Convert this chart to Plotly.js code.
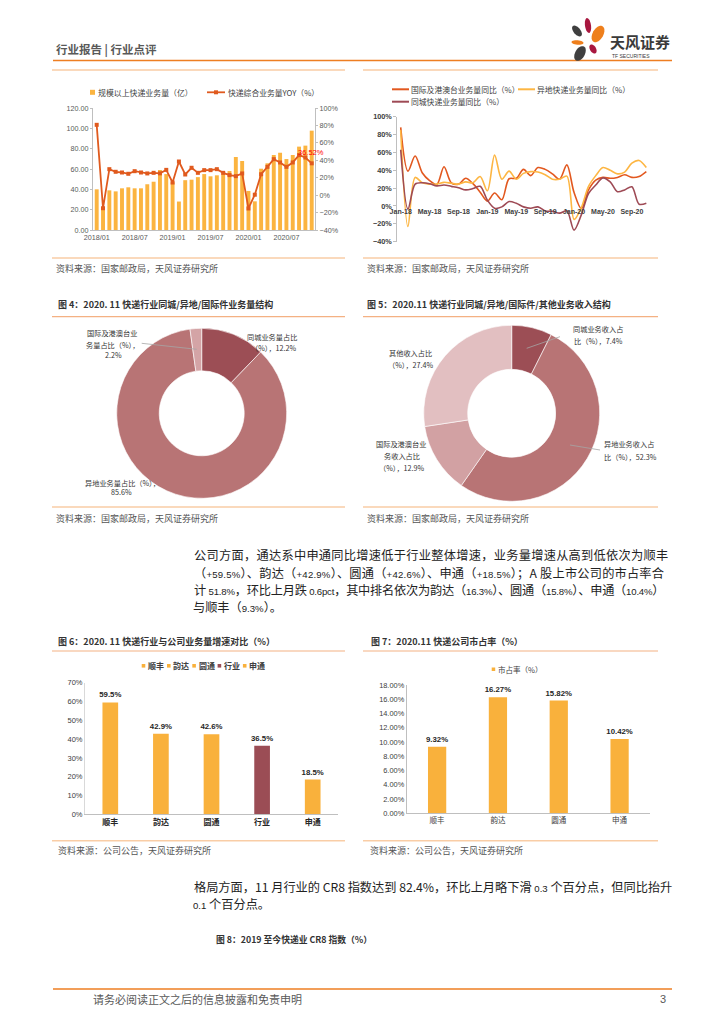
<!DOCTYPE html>
<html><head><meta charset="utf-8">
<script src="https://cdn.plot.ly/plotly-3.0.1.min.js"></script>
<style>html,body{margin:0;padding:0;background:#fff}#page{width:724px;height:1024px}</style>
</head><body><div id="page"></div>
<script>
// ---------------- DATA ----------------
const months1 = ["2018/01","2018/02","2018/03","2018/04","2018/05","2018/06","2018/07","2018/08","2018/09","2018/10","2018/11","2018/12",
  "2019/01","2019/02","2019/03","2019/04","2019/05","2019/06","2019/07","2019/08","2019/09","2019/10","2019/11","2019/12",
  "2020/01","2020/02","2020/03","2020/04","2020/05","2020/06","2020/07","2020/08","2020/09","2020/10","2020/11"];
const volume1 = [40,22,39,38,41,42,41,41,45,47.5,59,55,47,28,49,49.5,52,55,52.8,53.8,55.7,58,71.8,67.9,38.4,28.2,60.3,65.6,73.8,76,69.8,73.8,82,83,97.7];
const yoy1 = [80.7,-15,29.8,26.8,26,24.5,27.5,26,24.9,25.6,25,29,14.5,38.6,23.7,31.4,25.6,28.7,28.7,29.8,25.6,23,21.8,24.9,-15.3,0.5,24,32.5,41.3,37.5,32.5,37.5,45.9,43.2,36.52];
const ticks1 = ["2018/01","2018/07","2019/01","2019/07","2020/01","2020/07"];

const months2 = ["Jan-18","Feb-18","Mar-18","Apr-18","May-18","Jun-18","Jul-18","Aug-18","Sep-18","Oct-18","Nov-18","Dec-18",
  "Jan-19","Feb-19","Mar-19","Apr-19","May-19","Jun-19","Jul-19","Aug-19","Sep-19","Oct-19","Nov-19","Dec-19",
  "Jan-20","Feb-20","Mar-20","Apr-20","May-20","Jun-20","Jul-20","Aug-20","Sep-20","Oct-20","Nov-20"];
const intlYoy  = [88,39,56,37,28.5,24,44,26,24.5,31,25,15.5,5.5,14.5,7,30.5,31,41,34,43,41,36,30,46,15,-3,18,29,32,31,32,35,32,33,38.5];
const interYoy = [85,-23,32,26,24.5,24.5,26.5,25.5,24.5,27,26,33,17,57,30,39,30,36.5,38.5,38,35,30,30,33.5,-15,-2,22,34,43,40,36,38,48,51,43];
const intraYoy = [63,-3.5,24.5,26,25,22.5,23.5,22,20.5,18,19.5,22,6.5,-2.5,-1,5,3,-1,-2.5,-1,-5.5,-6,-8,-5.5,-27,-10,14,23.5,31.5,27,16,18,21.5,2,3];
const ticks2 = ["Jan-18","May-18","Sep-18","Jan-19","May-19","Sep-19","Jan-20","May-20","Sep-20"];

const volLabels = ["同城业务量占比（%）","异地业务量占比（%）","国际及港澳台业务量占比（%）"];
const volShare = [12.2,85.6,2.2];
const revLabels = ["同城业务收入占比（%）","异地业务收入占比（%）","国际及港澳台业务收入占比（%）","其他收入占比（%）"];
const revShare = [7.4,52.3,12.9,27.4];

const companies6 = ["顺丰","韵达","圆通","行业","申通"];
const growth6 = [59.5,42.9,42.6,36.5,18.5];
const companies7 = ["顺丰","韵达","圆通","申通"];
const share7 = [9.32,16.27,15.82,10.42];

// ---------------- HELPERS ----------------
const W = 724, H = 1024;
const X = p => p / W;
const Y = p => 1 - p / H;
const SANS = '"Liberation Sans", "Noto Sans CJK SC", sans-serif';
const CJK = '"Noto Sans CJK SC", "Liberation Sans", sans-serif';
const ORANGE = '#FBB440', LINE1 = '#E05A1E', LINEA = '#E2581F', LINEB = '#FDB643', LINEC = '#9E4A55';
const DARKRED = '#9B4D55';

function T(x, y, text, size, o) {
  o = o || {};
  return {xref:'paper', yref:'paper', x:X(x), y:Y(y), text:text, showarrow:false,
    xanchor:o.anchor || 'left', yanchor:'middle', borderpad:0,
    font:{family:o.family || CJK, size:size, color:o.color || '#333', weight:o.weight || 'normal'}};
}
function L(x0, y0, x1, y1, color, width) {
  return {type:'line', xref:'paper', yref:'paper', x0:X(x0), y0:Y(y0), x1:X(x1), y1:Y(y1),
    line:{color:color, width:width || 1}};
}
function R(x0, y0, x1, y1, color) {
  return {type:'rect', xref:'paper', yref:'paper', x0:X(x0), y0:Y(y0), x1:X(x1), y1:Y(y1),
    fillcolor:color, line:{width:0}};
}
function petal(cx, cy, rx, ry, ang, color) {
  const a = ang * Math.PI / 180; let d = '';
  for (let k = 0; k < 28; k++) {
    const t = k / 28 * 2 * Math.PI;
    const ex = rx * Math.cos(t), ey = ry * Math.sin(t);
    const px = cx + ex * Math.cos(a) - ey * Math.sin(a);
    const py = cy + ex * Math.sin(a) + ey * Math.cos(a);
    d += (k ? 'L' : 'M') + X(px).toFixed(5) + ',' + Y(py).toFixed(5);
  }
  return {type:'path', xref:'paper', yref:'paper', path:d + 'Z', fillcolor:color, line:{width:0}};
}
const tf = (s, c, w) => ({family:SANS, size:s, color:c || '#595959', weight:w || 'normal'});
// paragraph segments: cj = CJK run, la = smaller latin run, both with letter spacing
const cj = (s, ls) => '<span style="letter-spacing:' + ls + 'px">' + s + '</span>';
const la = (s, ls) => '<span style="font-size:9.6px;font-family:\'Liberation Sans\';letter-spacing:' + ls + 'px">' + s + '</span>';

// ---------------- TRACES ----------------
const traces = [];
// Chart 1
traces.push({type:'bar', name:'规模以上快递业务量（亿）', x:months1, y:volume1, xaxis:'x', yaxis:'y',
  width:0.62, marker:{color:ORANGE}, hoverinfo:'x+y'});
traces.push({type:'scatter', name:'快递综合业务量YOY（%）', x:months1, y:yoy1, xaxis:'x', yaxis:'y2',
  mode:'lines+markers', line:{color:LINE1, width:1.8}, marker:{symbol:'square', size:4, color:LINE1}, cliponaxis:false});
// Chart 2
[[intlYoy, '国际及港澳台业务量同比（%）', LINEA], [interYoy, '异地快递业务量同比（%）', LINEB], [intraYoy, '同城快递业务量同比（%）', LINEC]]
  .forEach(s => traces.push({type:'scatter', mode:'lines', name:s[1], x:months2, y:s[0], xaxis:'x3', yaxis:'y3',
    line:{color:s[2], width:1.6, shape:'spline', smoothing:0.9}, cliponaxis:false}));
// Donuts
traces.push({type:'pie', labels:volLabels, values:volShare, hole:0.5, sort:false, direction:'clockwise', rotation:0,
  domain:{x:[X(116.7), X(286.7)], y:[Y(498.3), Y(328.3)]},
  marker:{colors:['#9C4E55','#B87475','#D4A4A6'], line:{color:'#ffffff', width:0.6}}, textinfo:'none'});
traces.push({type:'pie', labels:revLabels, values:revShare, hole:0.5, sort:false, direction:'clockwise', rotation:0,
  domain:{x:[X(423.7), X(599.7)], y:[Y(501.3), Y(325.3)]},
  marker:{colors:['#9C4E55','#B87475','#D2A1A3','#E2BFC1'], line:{color:'#ffffff', width:0.6}}, textinfo:'none'});
// Chart 6
const colors6 = companies6.map(c => c === '行业' ? DARKRED : '#F9B13C');
companies6.forEach((c, i) => traces.push({type:'bar', name:c, x:[c], y:[growth6[i]], xaxis:'x4', yaxis:'y4',
  width:0.31, marker:{color:colors6[i]}, text:[growth6[i].toFixed(1) + '%'], textposition:'outside',
  constraintext:'none', textfont:{family:SANS, size:7.8, color:'#262626', weight:'bold'}, cliponaxis:false}));
// Chart 7
traces.push({type:'bar', name:'市占率（%）', x:companies7, y:share7, xaxis:'x5', yaxis:'y5', width:0.3,
  marker:{color:'#F9B13C'}, text:share7.map(v => v.toFixed(2) + '%'), textposition:'outside',
  constraintext:'none', textfont:{family:SANS, size:7.8, color:'#262626', weight:'bold'}, cliponaxis:false});

// ---------------- AXES ----------------
const ax = {showgrid:false, zeroline:false, fixedrange:true};
const layout = {
  width:W, height:H, margin:{l:0, r:0, t:0, b:0}, paper_bgcolor:'#ffffff', plot_bgcolor:'rgba(0,0,0,0)',
  showlegend:false, barmode:'overlay', font:{family:SANS, color:'#333'},
  xaxis:Object.assign({}, ax, {domain:[X(93), X(315)], anchor:'y', type:'category', categoryorder:'array', categoryarray:months1,
    range:[-0.585, 34.52], tickmode:'array', tickvals:ticks1, ticks:'', showline:true, linecolor:'#bfbfbf', linewidth:1,
    tickfont:tf(7.2)}),
  yaxis:Object.assign({}, ax, {domain:[Y(230), Y(108)], anchor:'x', range:[0, 120], dtick:20, tick0:0, tickformat:'.2f',
    showline:true, linecolor:'#bfbfbf', ticks:'outside', ticklen:2, tickcolor:'#bfbfbf', tickfont:tf(7.2)}),
  yaxis2:Object.assign({}, ax, {overlaying:'y', side:'right', anchor:'x', range:[-40, 100], dtick:20, tick0:0, ticksuffix:'%',
    showline:true, linecolor:'#bfbfbf', ticks:'outside', ticklen:2, tickcolor:'#bfbfbf', tickfont:tf(7.2)}),
  xaxis3:Object.assign({}, ax, {domain:[X(397.3), X(650)], anchor:'free', position:Y(206), type:'category',
    categoryorder:'array', categoryarray:months2, range:[-0.47, 34.51], tickmode:'array', tickvals:ticks2,
    ticks:'', showline:false, tickfont:tf(7, '#404040', 'bold')}),
  yaxis3:Object.assign({}, ax, {domain:[Y(241.7), Y(116.7)], anchor:'x3', range:[-40, 100], dtick:20, tick0:0, ticksuffix:'%',
    showline:true, linecolor:'#bfbfbf', ticks:'outside', ticklen:3, tickcolor:'#bfbfbf', tickfont:tf(7.3, '#404040', 'bold')}),
  xaxis4:Object.assign({}, ax, {domain:[X(85), X(338)], anchor:'y4', type:'category', categoryorder:'array', categoryarray:companies6,
    range:[-0.5, 4.5], ticks:'', showline:true, linecolor:'#bfbfbf', tickfont:{family:CJK, size:8, color:'#262626', weight:'bold'}}),
  yaxis4:Object.assign({}, ax, {domain:[Y(814.3), Y(682.7)], anchor:'x4', range:[0, 70], dtick:10, tick0:0, ticksuffix:'%',
    showline:true, linecolor:'#d9d9d9', ticks:'', tickfont:tf(7.5, '#404040')}),
  xaxis5:Object.assign({}, ax, {domain:[X(406.7), X(650)], anchor:'y5', type:'category', categoryorder:'array', categoryarray:companies7,
    range:[-0.5, 3.5], ticks:'', showline:true, linecolor:'#bfbfbf', tickfont:{family:CJK, size:7.5, color:'#404040'}}),
  yaxis5:Object.assign({}, ax, {domain:[Y(813.3), Y(685)], anchor:'x5', range:[0, 18], dtick:2, tick0:0, tickformat:'.2f', ticksuffix:'%',
    showline:true, linecolor:'#bfbfbf', ticks:'', tickfont:tf(7.4, '#404040')})
};

// ---------------- DECORATION: lines, legends, texts ----------------
const LIGHT = '#F9CDA6', MID = '#F4B183', HEAD = '#EE7E22';
const shapes = [
  L(53, 60.5, 672, 60.5, HEAD, 1.6),
  L(52, 70, 345, 70, LIGHT, 1.5), L(363, 70, 658, 70, LIGHT, 1.5),
  L(52, 258, 345, 258, LIGHT, 1.5), L(363, 258, 658, 258, LIGHT, 1.5),
  L(52, 316.7, 345, 316.7, MID, 1.2), L(363, 316.7, 658, 316.7, MID, 1.2),
  L(52, 507, 345, 507, LIGHT, 1.5), L(363, 507, 658, 507, LIGHT, 1.5),
  L(52, 651, 345, 651, MID, 1.2), L(363, 651, 658, 651, MID, 1.2),
  L(52, 840.7, 345, 840.7, LIGHT, 1.5), L(363, 840.7, 658, 840.7, LIGHT, 1.5),
  L(53, 989, 672, 989, HEAD, 1.6),
  // legend keys chart 1
  R(90, 89.8, 95, 94.8, ORANGE),
  L(207, 92.3, 225, 92.3, LINE1, 1.8), R(214, 90.3, 218, 94.3, LINE1),
  // legend keys chart 2
  L(392, 89.3, 409, 89.3, LINEA, 2), L(518, 89.3, 535, 89.3, LINEB, 2), L(392, 101.7, 409, 101.7, LINEC, 2),
  // donut leader lines
  L(141.7, 343.3, 196.7, 349.3, '#A6A6A6', 0.8),
  L(526.7, 348.3, 560, 336.7, '#A6A6A6', 0.8),
  L(570, 445, 600, 450, '#A6A6A6', 0.8),
  // chart 7 legend key
  R(491.7, 667.5, 495.2, 671, '#F9B13C'),
  // logo petals
  petal(577, 31, 6.5, 3.4, 50, '#3F3F3F'),
  petal(588, 25.5, 7.5, 3, 82, '#A8173F'),
  petal(598, 34, 9, 5.3, -60, '#EE7F1C'),
  petal(577.5, 42.5, 6, 2.2, 5, '#EE7F1C'),
  petal(580, 53.5, 8, 4.8, -60, '#3F3F3F'),
  petal(593, 49, 5, 3, 60, '#A8173F')
];
// chart 6 legend keys
companies6.forEach((c, i) => shapes.push(R(141.7 + 25.3 * i, 664, 145.3 + 25.3 * i, 667.6, colors6[i])));

const PF = 12.2;
const s2 = 0.22, s3 = -0.2;
const ann = [
  T(55, 49, '行业报告 | 行业点评', 11.5, {color:'#595959', weight:'bold'}),
  T(609, 41, '天风证券', 15, {color:'#3a3a3a', weight:'bold'}),
  T(611, 55.5, 'TF SECURITIES', 5, {family:SANS, color:'#3a3a3a'}),
  // chart 1 data label (last point)
  {xref:'x', yref:'y2', x:months1[months1.length - 1], y:yoy1[yoy1.length - 1], text:yoy1[yoy1.length - 1].toFixed(2) + '%',
   showarrow:false, xanchor:'center', yanchor:'bottom', yshift:5, xshift:-1, borderpad:0,
   font:{family:SANS, size:7.5, color:'#FF0000'}},
  // chart 1 legend
  T(96.5, 92.3, '规模以上快递业务量（亿）', 7.9, {color:'#404040'}),
  T(226.5, 92.3, '快递综合业务量YOY（%）', 7.8, {color:'#404040'}),
  // chart 2 legend
  T(410, 89.3, '国际及港澳台业务量同比（%）', 7.8, {color:'#404040'}),
  T(536, 89.3, '异地快递业务量同比（%）', 7.8, {color:'#404040'}),
  T(410, 101.7, '同城快递业务量同比（%）', 7.8, {color:'#404040'}),
  // sources row 1
  T(55, 268, '资料来源：国家邮政局，天风证券研究所', 9, {color:'#555'}),
  T(366, 268, '资料来源：国家邮政局，天风证券研究所', 9, {color:'#555'}),
  // titles 4/5
  T(57, 304, '图 4：2020. 11 快递行业同城/异地/国际件业务量结构', 9, {weight:'bold', color:'#333'}),
  T(366, 304, '图 5：2020.11 快递行业同城/异地/国际件/其他业务收入结构', 9, {weight:'bold', color:'#333'}),
  // donut 1 labels
  T(272, 336.7, '同城业务量占比', 7.2, {anchor:'center'}),
  T(274, 348.3, '（%），' + volShare[0].toFixed(1) + '%', 7.2, {anchor:'center'}),
  T(112, 333.3, '国际及港澳台业', 7.2, {anchor:'center'}),
  T(113, 345, '务量占比（%），', 7.2, {anchor:'center'}),
  T(113.5, 355.3, volShare[2].toFixed(1) + '%', 7.2, {anchor:'center'}),
  T(122.5, 482.7, '异地业务量占比（%），', 7.2, {anchor:'center'}),
  T(121.7, 492.3, volShare[1].toFixed(1) + '%', 7.2, {anchor:'center'}),
  // donut 2 labels
  T(598, 329.3, '同城业务收入占', 7.2, {anchor:'center'}),
  T(598, 340.7, '比（%），' + revShare[0].toFixed(1) + '%', 7.2, {anchor:'center'}),
  T(629, 444, '异地业务收入占', 7.2, {anchor:'center'}),
  T(630, 457.3, '比（%），' + revShare[1].toFixed(1) + '%', 7.2, {anchor:'center'}),
  T(401, 444, '国际及港澳台业', 7.2, {anchor:'center'}),
  T(402, 455.7, '务收入占比', 7.2, {anchor:'center'}),
  T(402, 468.3, '（%），' + revShare[2].toFixed(1) + '%', 7.2, {anchor:'center'}),
  T(410, 352.7, '其他收入占比', 7.2, {anchor:'center'}),
  T(411, 365, '（%），' + revShare[3].toFixed(1) + '%', 7.2, {anchor:'center'}),
  // sources row 2
  T(55, 518, '资料来源：国家邮政局，天风证券研究所', 9, {color:'#555'}),
  T(366, 518, '资料来源：国家邮政局，天风证券研究所', 9, {color:'#555'}),
  // paragraph 1
  T(192.5, 555, cj('公司方面，通达系中申通同比增速低于行业整体增速，业务量增速从高到低依次为顺丰', 0.3), PF, {color:'#222'}),
  T(192.5, 572.5, cj('（', s2) + la('+59.5%', s2) + cj('）、韵达（', s2) + la('+42.9%', s2) + cj('）、圆通（', s2) + la('+42.6%', s2) +
    cj('）、申通（', s2) + la('+18.5%', s2) + cj('）；A 股上市公司的市占率合', s2), PF, {color:'#222'}),
  T(192.5, 590, cj('计 ', s3) + la('51.8%', s3) + cj('，环比上月跌 ', s3) + la('0.6pct', s3) + cj('，其中排名依次为韵达（', s3) +
    la('16.3%', s3) + cj('）、圆通（', s3) + la('15.8%', s3) + cj('）、申通（', s3) + la('10.4%', s3) + cj('）', s3), PF, {color:'#222'}),
  T(192.5, 607, '与顺丰（' + la('9.3%', 0) + '）。', PF, {color:'#222'}),
  // titles 6/7
  T(57, 641, '图 6：2020. 11 快递行业与公司业务量增速对比（%）', 9, {weight:'bold', color:'#333'}),
  T(370, 641, '图 7：2020.11 快递公司市占率（%）', 9, {weight:'bold', color:'#333'}),
  T(496.7, 669.3, '市占率（%）', 7.5, {color:'#404040'}),
  // sources row 3
  T(57, 850, '资料来源：公司公告，天风证券研究所', 9, {color:'#555'}),
  T(369, 850, '资料来源：公司公告，天风证券研究所', 9, {color:'#555'}),
  // paragraph 2
  T(192.5, 886.7, '格局方面，11 月行业的 CR8 指数达到 82.4%，环比上月略下滑 ' + la('0.3', 0) + ' 个百分点，但同比抬升', PF, {color:'#222'}),
  T(192.5, 904, la('0.1', 0) + ' 个百分点。', PF, {color:'#222'}),
  T(215, 939, '图 8：2019 至今快递业 CR8 指数（%）', 8.8, {weight:'bold', color:'#333'}),
  // footer
  T(92, 999, '请务必阅读正文之后的信息披露和免责申明', 11, {color:'#595959'}),
  T(667, 999, '3', 11, {anchor:'right', color:'#595959', family:SANS})
];
companies6.forEach((c, i) => ann.push(T(147 + 25.3 * i, 665.8, c, 8, {color:'#404040', weight:'bold'})));

layout.shapes = shapes;
layout.annotations = ann;

Plotly.newPlot('page', traces, layout, {staticPlot:true, displayModeBar:false});
</script>
</body></html>
